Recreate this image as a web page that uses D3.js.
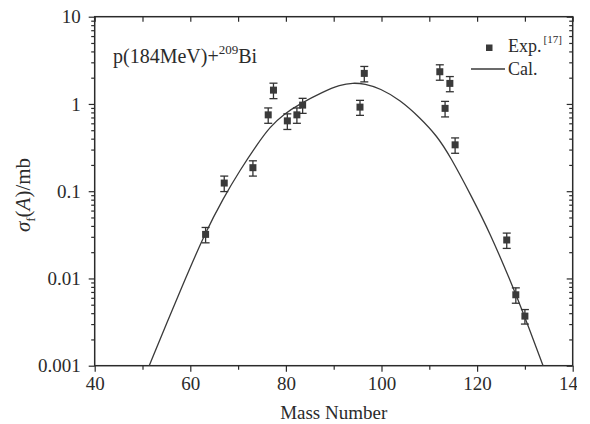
<!DOCTYPE html>
<html><head><meta charset="utf-8">
<script src="https://cdn.jsdelivr.net/npm/d3@7"></script>
<style>
html,body{margin:0;padding:0;background:#fff;}
svg{display:block;font-family:"Liberation Serif","Times New Roman",serif;}
</style></head>
<body>
<svg id="chart" width="590" height="424"></svg>
<script>
// Experimental points
const massExp  = [63.2, 67.1, 73.1, 76.3, 77.4, 80.3, 82.3, 83.5, 95.5, 96.4, 112.2, 113.3, 114.3, 115.4, 126.2, 128.1, 130.0];
const sigmaExp = [0.032, 0.124, 0.186, 0.75, 1.44, 0.64, 0.75, 0.97, 0.92, 2.24, 2.34, 0.89, 1.72, 0.34, 0.0276, 0.0065, 0.0037];
const sigmaErr = [0.0064, 0.025, 0.037, 0.15, 0.29, 0.13, 0.15, 0.19, 0.18, 0.45, 0.47, 0.18, 0.34, 0.068, 0.0055, 0.0013, 0.0007];
// Calculated curve
const massCal  = [51.4, 55, 59, 63, 67, 70.4, 73.9, 76.7, 79.5, 82.9, 87.8, 91.3, 94, 96.5, 99.7, 103.9, 108.1, 111.6, 114.3, 118.9, 122.7, 126.9, 129.7, 133.8];
const sigmaCal = [0.001, 0.00302, 0.01, 0.0324, 0.0851, 0.174, 0.339, 0.55, 0.759, 1.0, 1.38, 1.65, 1.75, 1.70, 1.51, 1.11, 0.69, 0.43, 0.255, 0.086, 0.0331, 0.00955, 0.00398, 0.001];
// Ticks
const xTicks = [40, 60, 80, 100, 120, 140];
const xMinor = [50, 70, 90, 110, 130];
const yTicks = [10, 1, 0.1, 0.01, 0.001];
const yTickLabels = ["10", "1", "0.1", "0.01", "0.001"];

const svg = d3.select("#chart");
const L = 94.7, R = 572.7, T = 16.7, B = 365.7;
const x = d3.scaleLinear().domain([40, 140]).range([L, R]);
const y = d3.scaleLog().domain([0.001, 10]).range([B, T]);
const ink = "#2b2b2b";

const yMinor = [];
[0.001, 0.01, 0.1, 1].forEach(d => { for (let k = 2; k <= 9; k++) yMinor.push(d * k); });

svg.append("defs").append("clipPath").attr("id", "pageclip")
  .append("rect").attr("x", 0).attr("y", 0).attr("width", 577).attr("height", 424);

const g = svg.append("g").attr("clip-path", "url(#pageclip)");

function styleAxis(sel, fs) {
  sel.select(".domain").remove();
  sel.selectAll("line").attr("stroke", ink).attr("stroke-width", 1.2);
  sel.selectAll("text").attr("fill", ink).style("font-size", fs + "px")
     .style("font-family", '"Liberation Serif","Times New Roman",serif');
}

// bottom
const gb = g.append("g").attr("transform", `translate(0,${B})`)
  .call(d3.axisBottom(x).tickValues(xTicks).tickSize(6).tickPadding(5).tickFormat(d3.format("d")));
styleAxis(gb, 19);
const gbm = g.append("g").attr("transform", `translate(0,${B})`)
  .call(d3.axisBottom(x).tickValues(xMinor).tickSize(4).tickFormat(""));
styleAxis(gbm, 19);
// top (inward)
const gt = g.append("g").attr("transform", `translate(0,${T})`)
  .call(d3.axisTop(x).tickValues(xTicks.concat(xMinor)).tickSize(-5).tickFormat(""));
styleAxis(gt, 19);
// left
const gl = g.append("g").attr("transform", `translate(${L},0)`)
  .call(d3.axisLeft(y).tickValues(yTicks).tickSize(6).tickPadding(8)
    .tickFormat(d => yTickLabels[yTicks.indexOf(d)]));
styleAxis(gl, 19);
const glm = g.append("g").attr("transform", `translate(${L},0)`)
  .call(d3.axisLeft(y).tickValues(yMinor).tickSize(3.5).tickFormat(""));
styleAxis(glm, 19);
// right (inward)
const gr = g.append("g").attr("transform", `translate(${R},0)`)
  .call(d3.axisRight(y).tickValues(yTicks).tickSize(-6).tickFormat(""));
styleAxis(gr, 19);
const grm = g.append("g").attr("transform", `translate(${R},0)`)
  .call(d3.axisRight(y).tickValues(yMinor).tickSize(-3.5).tickFormat(""));
styleAxis(grm, 19);

// frame
g.append("rect").attr("x", L).attr("y", T).attr("width", R - L).attr("height", B - T)
  .attr("fill", "none").attr("stroke", ink).attr("stroke-width", 1.5);

// curve
const calData = massCal.map((m, i) => [m, sigmaCal[i]]);
g.append("path").datum(calData)
  .attr("d", d3.line().x(d => x(d[0])).y(d => y(d[1])).curve(d3.curveBasis))
  .attr("fill", "none").attr("stroke", "#3a3a3a").attr("stroke-width", 1.3);

// error bars + markers
const expData = massExp.map((m, i) => ({ m, v: sigmaExp[i], e: sigmaErr[i] }));
const pts = g.append("g");
expData.forEach(d => {
  const cx = x(d.m), y1 = y(d.v + d.e), y0 = y(d.v - d.e);
  pts.append("line").attr("x1", cx).attr("x2", cx).attr("y1", y1).attr("y2", y0)
    .attr("stroke", "#333").attr("stroke-width", 1.3);
  [y1, y0].forEach(yy => pts.append("line").attr("x1", cx - 4).attr("x2", cx + 4)
    .attr("y1", yy).attr("y2", yy).attr("stroke", "#333").attr("stroke-width", 1.3));
  pts.append("rect").attr("x", cx - 3.5).attr("y", y(d.v) - 3.5).attr("width", 7).attr("height", 7)
    .attr("fill", "#3a3a3a");
});

// annotation
const ann = g.append("text").attr("x", 113).attr("y", 63).attr("fill", ink).style("font-size", "20px");
ann.append("tspan").text("p(184MeV)+");
ann.append("tspan").attr("dy", -9).style("font-size", "13px").text("209");
ann.append("tspan").attr("dy", 9).text("Bi");

// legend
g.append("rect").attr("x", 486).attr("y", 44.5).attr("width", 6.5).attr("height", 6.5).attr("fill", "#3a3a3a");
const le = g.append("text").attr("x", 508).attr("y", 52).attr("fill", ink).style("font-size", "18px");
le.append("tspan").text("Exp.");
le.append("tspan").attr("dy", -9).attr("dx", 2).style("font-size", "11px").text("[17]");
g.append("line").attr("x1", 471).attr("x2", 505).attr("y1", 69).attr("y2", 69)
  .attr("stroke", "#3a3a3a").attr("stroke-width", 1.3);
g.append("text").attr("x", 508).attr("y", 75).attr("fill", ink).style("font-size", "18px").text("Cal.");

// axis titles
g.append("text").attr("x", (L + R) / 2).attr("y", 419).attr("text-anchor", "middle")
  .attr("fill", ink).style("font-size", "19px").text("Mass Number");
const yl = g.append("text").attr("transform", "translate(30,195) rotate(-90)")
  .attr("text-anchor", "middle").attr("fill", ink).style("font-size", "21px");
yl.append("tspan").style("font-style", "italic").text("σ");
yl.append("tspan").attr("dy", 5).style("font-size", "13px").text("f");
yl.append("tspan").attr("dy", -5).text("(");
yl.append("tspan").style("font-style", "italic").text("A");
yl.append("tspan").text(")/mb");
</script>
</body></html>
